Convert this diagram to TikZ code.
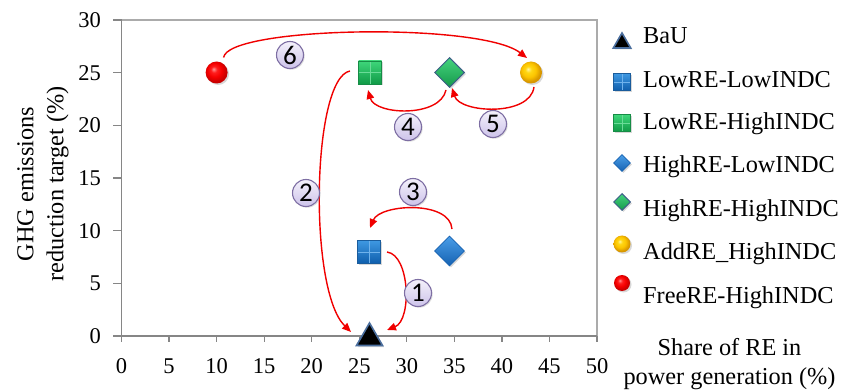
\documentclass[tikz,border=0pt]{standalone}
\usepackage{fontspec}
\setmainfont{Liberation Serif}
\newfontfamily\numfont{Carlito}
\usetikzlibrary{shapes.geometric,arrows.meta,shadows,calc}

\definecolor{axisgray}{HTML}{868686}
\definecolor{framegray}{HTML}{ABABAB}
\definecolor{sqbluetop}{HTML}{3E98E2}
\definecolor{sqbluebot}{HTML}{0F5EAC}
\definecolor{sqblueedge}{HTML}{1A5C9C}
\definecolor{sqbluecross}{HTML}{6FB2EC}
\definecolor{sqgreentop}{HTML}{3ED67A}
\definecolor{sqgreenbot}{HTML}{109A47}
\definecolor{sqgreenedge}{HTML}{168C46}
\definecolor{sqgreencross}{HTML}{6ADB98}
\definecolor{dmbluetop}{HTML}{4A9EE8}
\definecolor{dmbluebot}{HTML}{1662B2}
\definecolor{dmgreentop}{HTML}{45D37E}
\definecolor{dmgreenbot}{HTML}{15994A}
\definecolor{dmedge}{HTML}{3D5E88}
\definecolor{triedge}{HTML}{4A6E9E}
\definecolor{labtop}{HTML}{F4F1FB}
\definecolor{labbot}{HTML}{CDC3EA}
\definecolor{labborder}{HTML}{7D6EA3}
\definecolor{arrred}{HTML}{F00000}

\pgfdeclareradialshading{redglow}{\pgfpoint{-7bp}{8bp}}{%
  color(0bp)=(rgb,255:red,255;green,150;blue,150);
  color(7bp)=(rgb,255:red,255;green,30;blue,30);
  color(16bp)=(rgb,255:red,245;green,0;blue,0);
  color(25bp)=(rgb,255:red,200;green,0;blue,0);
  color(50bp)=(rgb,255:red,200;green,0;blue,0)}
\pgfdeclareradialshading{yellowglow}{\pgfpoint{-7bp}{8bp}}{%
  color(0bp)=(rgb,255:red,255;green,245;blue,160);
  color(7bp)=(rgb,255:red,255;green,215;blue,20);
  color(16bp)=(rgb,255:red,252;green,196;blue,0);
  color(25bp)=(rgb,255:red,215;green,150;blue,0);
  color(50bp)=(rgb,255:red,215;green,150;blue,0)}

\tikzset{
  mshadow/.style={drop shadow={opacity=0.3, shadow xshift=1.5pt, shadow yshift=-1.5pt}},
  ticklab/.style={font=\fontsize{22.5}{27}\selectfont, inner sep=0pt},
  legtext/.style={font=\fontsize{24.3}{29}\selectfont, anchor=base west, inner sep=0pt},
  conn/.style={draw=arrred, line width=1.4pt, -{Triangle[length=9pt,width=7.5pt]}},
  numlab/.style={circle, minimum size=27pt, inner sep=0pt, draw=labborder, line width=1.1pt,
    top color=labtop, bottom color=labbot, font=\numfont\fontsize{27}{30}\selectfont,
    drop shadow={opacity=0.25, shadow xshift=1.2pt, shadow yshift=-1.2pt}},
  trimark/.style={regular polygon, regular polygon sides=3, inner sep=0pt, fill=black,
    draw=triedge, line width=1.6pt, mshadow},
  bluesq/.style={rectangle, inner sep=0pt, top color=sqbluetop, bottom color=sqbluebot,
    draw=sqblueedge, line width=0.8pt, mshadow,
    path picture={\draw[sqbluecross, line width=0.8pt]
      (path picture bounding box.north) -- (path picture bounding box.south)
      (path picture bounding box.west) -- (path picture bounding box.east);}},
  greensq/.style={rectangle, inner sep=0pt, top color=sqgreentop, bottom color=sqgreenbot,
    draw=sqgreenedge, line width=0.8pt, mshadow,
    path picture={\draw[sqgreencross, line width=0.8pt]
      (path picture bounding box.north) -- (path picture bounding box.south)
      (path picture bounding box.west) -- (path picture bounding box.east);}},
  bluedm/.style={diamond, inner sep=0pt, top color=dmbluetop, bottom color=dmbluebot,
    draw=dmbluebot, line width=0.8pt, mshadow},
  greendm/.style={diamond, inner sep=0pt, top color=dmgreentop, bottom color=dmgreenbot,
    draw=dmedge, line width=1pt, mshadow},
  yellowball/.style={circle, inner sep=0pt, shading=yellowglow, mshadow},
  redball/.style={circle, inner sep=0pt, shading=redglow, mshadow},
}

\begin{document}
\begin{tikzpicture}[x=1pt,y=-1pt]
\useasboundingbox (0,0) rectangle (841,390);
\fill[white] (0,0) rectangle (841,390);

% frame
\draw[framegray, line width=1.2pt] (121.5,20) -- (597,20) -- (597,336);
\draw[axisgray, line width=1.2pt] (121.5,20) -- (121.5,336) -- (597,336);

% y ticks
\foreach \v [evaluate=\v as \yy using 336-10.5333*\v] in {0,5,...,30} {
  \draw[axisgray, line width=1.2pt] (113,\yy) -- (121.5,\yy);
  \node[ticklab, anchor=east] (yt\v) at (101,\yy) {\v};
}
% x ticks
\foreach \v [evaluate=\v as \xx using 121.5+9.51*\v] in {0,5,...,50} {
  \draw[axisgray, line width=1.2pt] (\xx,336) -- (\xx,342);
  \node[ticklab, anchor=base] (xt\v) at (\xx,373) {\v};
}

% axis titles
\node[font=\fontsize{24.3}{30}\selectfont, align=center, rotate=90, inner sep=0pt] (ytitle) at (43,184)
  {GHG emissions\\reduction target (\%)};
\node[font=\fontsize{24.3}{29}\selectfont, anchor=base, inner sep=0pt] (xtitle1) at (729.5,355) {Share of RE in};
\node[font=\fontsize{24.3}{29}\selectfont, anchor=base, inner sep=0pt] (xtitle2) at (729.5,384) {power generation (\%)};

% data markers
\node[redball, minimum size=22pt] (free) at (216.6,72.5) {};
\node[greensq, minimum size=23pt] (lowhigh) at (370,72.5) {};
\node[greendm, minimum size=30pt] (highhigh) at (449.5,72.5) {};
\node[yellowball, minimum size=22pt] (add) at (531,72.5) {};
\node[bluesq, minimum size=23pt] (lowlow) at (369,252) {};
\node[bluedm, minimum size=30pt] (highlow) at (449.5,251) {};
\node[trimark, minimum size=30pt] (bau) at (369.5,338) {};

% connectors
\draw[conn] ([shift={(7,-15)}]free.center) .. controls +(4,-31) and +(-47,-36) .. ([shift={(-4,-14.5)}]add.center);
\draw[conn] ([shift={(-3.5,17.5)}]highhigh.center) .. controls +(-6,28) and +(7,25) .. ([shift={(-2,17.5)}]lowhigh.center);
\draw[conn] ([shift={(3,14.5)}]add.center) .. controls +(-4,30) and +(8,25) .. ([shift={(2.5,15.5)}]highhigh.center);
\draw[conn] ([shift={(2.5,-22)}]highlow.center) .. controls +(-2,-29) and +(10,-24) .. ([shift={(1,-24)}]lowlow.center);
\draw[conn] ([shift={(-20,-1.5)}]lowhigh.center) .. controls +(-38,7) and +(-43,-42) .. ([shift={(-18.5,-6)}]bau.center);
\draw[conn] ([shift={(18,0)}]lowlow.center) .. controls +(23,3) and +(25,-10) .. ([shift={(17.5,-8)}]bau.center);

% step labels
\node[numlab] (n6) at (290,55) {6};
\node[numlab] (n4) at (408,127) {4};
\node[numlab] (n5) at (493,124) {5};
\node[numlab] (n3) at (413,192) {3};
\node[numlab] (n2) at (306,193) {2};
\node[numlab] (n1) at (418,293) {1};

% legend
\node[trimark, minimum size=20pt] (lg1) at (622,43) {};
\node[bluesq, minimum size=17pt] (lg2) at (622,82) {};
\node[greensq, minimum size=17pt] (lg3) at (622,123) {};
\node[bluedm, minimum size=17pt] (lg4) at (622,163) {};
\node[greendm, minimum size=17pt] (lg5) at (622,202) {};
\node[yellowball, minimum size=17pt] (lg6) at (622,244) {};
\node[redball, minimum size=16pt] (lg7) at (622,283) {};

\node[legtext] (lt1) at (643,44) {BaU};
\node[legtext] (lt2) at (643,88) {LowRE-LowINDC};
\node[legtext] (lt3) at (643,130) {LowRE-HighINDC};
\node[legtext] (lt4) at (643,173) {HighRE-LowINDC};
\node[legtext] (lt5) at (643,216.5) {HighRE-HighINDC};
\node[legtext] (lt6) at (643,260) {AddRE\_HighINDC};
\node[legtext] (lt7) at (643,303) {FreeRE-HighINDC};
\end{tikzpicture}
\end{document}
